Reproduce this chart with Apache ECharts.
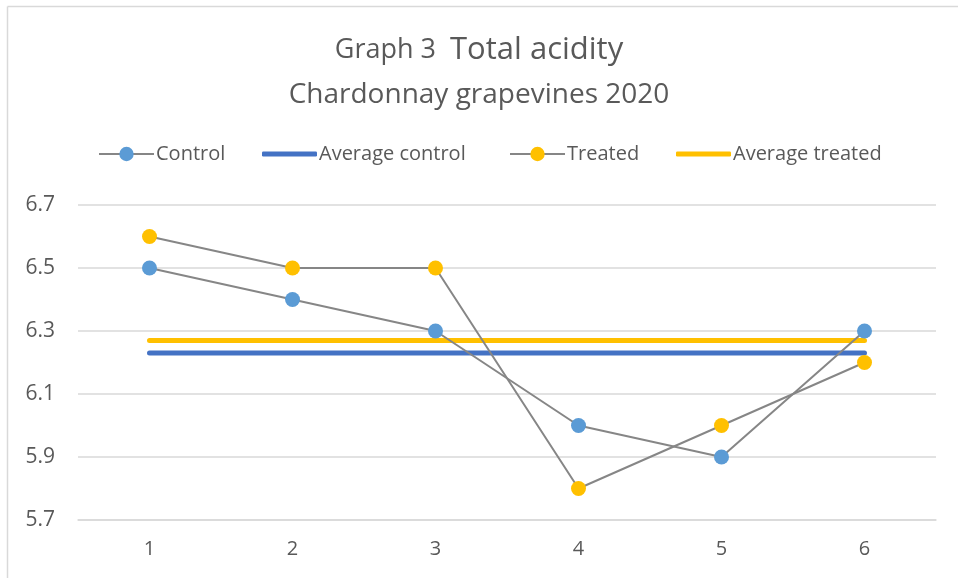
<!DOCTYPE html>
<html>
<head>
<meta charset="utf-8">
<script src="https://cdn.jsdelivr.net/npm/echarts@6/dist/echarts.min.js"></script>
<style>
  html, body { margin: 0; padding: 0; background: #fff; }
  #chart { width: 958px; height: 578px; }
</style>
</head>
<body>
<div id="chart"></div>
<script>
  // values
  var categories = ['1', '2', '3', '4', '5', '6'];
  var control = [6.5, 6.4, 6.3, 6.0, 5.9, 6.3];
  var treated = [6.6, 6.5, 6.5, 5.8, 6.0, 6.2];
  var avgControl = [6.23, 6.23, 6.23, 6.23, 6.23, 6.23];
  var avgTreated = [6.27, 6.27, 6.27, 6.27, 6.27, 6.27];

  var font = '"Open Sans", "Liberation Sans", sans-serif';
  var textColor = '#595959';

  var chart = echarts.init(document.getElementById('chart'));

  // one legend per item so each sits where the original has it
  function legendAt(left, name, thin) {
    var lg = {
      top: 139,
      left: left,
      data: [name],
      itemWidth: 55,
      itemHeight: thin ? 5 : 18,
      itemGap: 4,
      textStyle: { fontFamily: font, fontSize: 20, lineHeight: 18, color: textColor, padding: [0, 0, 0, -3] }
    };
    if (thin) lg.icon = 'roundRect';
    return lg;
  }

  chart.setOption({
    backgroundColor: '#fff',
    animation: false,
    title: {
      left: 'center',
      top: 30,
      itemGap: 15,
      text: '{a|Graph 3  }{b|Total acidity}',
      subtext: 'Chardonnay grapevines 2020',
      textStyle: {
        fontWeight: 'normal',
        rich: {
          a: { fontFamily: font, fontSize: 27, fontWeight: 'normal', color: textColor },
          b: { fontFamily: font, fontSize: 31, fontWeight: 'normal', color: textColor }
        }
      },
      subtextStyle: { fontFamily: font, fontSize: 28, color: textColor }
    },
    legend: [
      legendAt(93, 'Control'),
      legendAt(257, 'Average control', true),
      legendAt(504, 'Treated'),
      legendAt(671, 'Average treated', true)
    ],
    graphic: [
      { type: 'line', shape: { x1: 7.5, y1: 6.5, x2: 958, y2: 6.5 }, style: { stroke: '#d9d9d9', lineWidth: 1.5 } },
      { type: 'line', shape: { x1: 7.5, y1: 6.5, x2: 7.5, y2: 578 }, style: { stroke: '#d9d9d9', lineWidth: 1.5 } }
    ],
    grid: { left: 78, right: 22, top: 205, bottom: 58 },
    xAxis: {
      type: 'category',
      data: categories,
      axisLine: { lineStyle: { color: '#d9d9d9', width: 1.5 } },
      axisTick: { show: false },
      axisLabel: { fontFamily: font, fontSize: 20, color: textColor, margin: 19 }
    },
    yAxis: {
      type: 'value',
      min: 5.7,
      max: 6.7,
      interval: 0.2,
      axisLine: { show: false },
      axisTick: { show: false },
      splitLine: { lineStyle: { color: '#d9d9d9', width: 1.5 } },
      axisLabel: {
        fontFamily: font, fontSize: 21, color: textColor, margin: 23,
        formatter: function (v) { return v.toFixed(1); }
      }
    },
    series: [
      {
        name: 'Control',
        type: 'line',
        data: control,
        symbol: 'circle',
        symbolSize: 15,
        itemStyle: { color: '#5b9bd5' },
        lineStyle: { color: '#868686', width: 2 },
        z: 3
      },
      {
        name: 'Average control',
        type: 'line',
        data: avgControl,
        symbol: 'none',
        itemStyle: { color: '#4472c4' },
        lineStyle: { color: '#4472c4', width: 5, cap: 'round' },
        z: 2
      },
      {
        name: 'Treated',
        type: 'line',
        data: treated,
        symbol: 'circle',
        symbolSize: 15,
        itemStyle: { color: '#ffc000' },
        lineStyle: { color: '#868686', width: 2 },
        z: 3
      },
      {
        name: 'Average treated',
        type: 'line',
        data: avgTreated,
        symbol: 'none',
        itemStyle: { color: '#ffc000' },
        lineStyle: { color: '#ffc000', width: 5, cap: 'round' },
        z: 2
      }
    ]
  });
</script>
</body>
</html>
